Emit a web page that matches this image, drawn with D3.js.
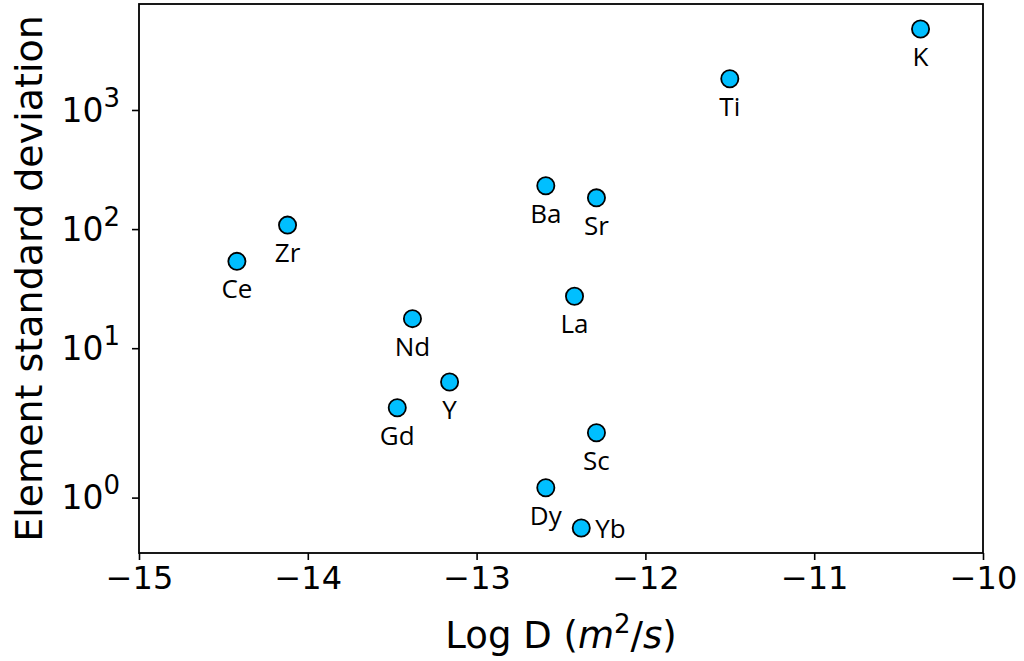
<!DOCTYPE html>
<html>
<head>
<meta charset="utf-8">
<script src="https://cdn.jsdelivr.net/npm/d3@7"></script>
<style>
  html, body { margin: 0; padding: 0; background: #ffffff; }
  svg { display: block; }
  text { fill: #000; }
</style>
</head>
<body>
<svg id="chart" width="1024" height="661"></svg>
<script>
// Element diffusivity vs. spread of concentrations
const elements = ["K", "Ti", "Ba", "Sr", "Zr", "Ce", "La", "Nd", "Y", "Gd", "Sc", "Dy", "Yb"];
const logD     = [-10.37, -11.50, -12.59, -12.29, -14.12, -14.42, -12.42, -13.38, -13.16, -13.47, -12.29, -12.59, -12.38];
const stdDev   = [4790, 1830, 231, 183, 108, 53.6, 27.3, 17.7, 5.2, 3.16, 1.98, 1.15, 0.54];
// where each element name sits relative to its marker
const labelSide = ["below", "below", "below", "below", "below", "below", "below", "below", "below", "below", "below", "below", "right"];

const xTicks = [-15, -14, -13, -12, -11, -10];
const yTickExponents = [0, 1, 2, 3];

const plot = { left: 139, right: 983, top: 4, bottom: 553 };

// symmetric log transform (linear inside ±2, log10 outside)
const LINTHRESH = 2;
const LINSCALE_ADJ = 1 / (1 - 1 / 10);
function symlog(v) {
  const a = Math.abs(v);
  if (a <= LINTHRESH) return v * LINSCALE_ADJ;
  return Math.sign(v) * LINTHRESH * (LINSCALE_ADJ + Math.log10(a / LINTHRESH));
}

const svg = d3.select("#chart");

const x = d3.scaleLinear().domain([-15, -10]).range([plot.left, plot.right]);

const tVals = stdDev.map(symlog);
const tMin = d3.min(tVals), tMax = d3.max(tVals);
const pad = (tMax - tMin) * 0.05;
const yT = d3.scaleLinear().domain([tMin - pad, tMax + pad]).range([plot.bottom, plot.top]);
const y = v => yT(symlog(v));

const tickFont = "DejaVu Sans, sans-serif";

// x axis
const xAxis = svg.append("g")
  .attr("transform", `translate(0,${plot.bottom})`)
  .call(d3.axisBottom(x).tickValues(xTicks).tickFormat(d3.format("d")).tickSize(7).tickSizeOuter(0).tickPadding(6));
xAxis.select(".domain").remove();
xAxis.selectAll(".tick line").attr("stroke", "#000").attr("stroke-width", 1.6);
xAxis.selectAll(".tick text")
  .attr("font-family", tickFont).attr("font-size", 32).attr("fill", "#000");

// y axis with 10^n labels
const yAxis = svg.append("g")
  .attr("transform", `translate(${plot.left},0)`)
  .call(d3.axisLeft(yT).tickValues(yTickExponents.map(e => symlog(Math.pow(10, e)))).tickFormat("").tickSize(7).tickSizeOuter(0).tickPadding(12));
yAxis.select(".domain").remove();
yAxis.selectAll(".tick line").attr("stroke", "#000").attr("stroke-width", 1.6);
yAxis.selectAll(".tick text")
  .data(yTickExponents)
  .attr("font-family", tickFont).attr("font-size", 33).attr("fill", "#000")
  .attr("dy", "0.34em")
  .each(function (e) {
    const t = d3.select(this);
    t.text(null);
    t.append("tspan").text("10");
    t.append("tspan").attr("font-size", 26).attr("dy", -15).text(e);
  });

// frame
svg.append("rect")
  .attr("x", plot.left).attr("y", plot.top)
  .attr("width", plot.right - plot.left).attr("height", plot.bottom - plot.top)
  .attr("fill", "none").attr("stroke", "#000").attr("stroke-width", 1.8);

// points
const idx = d3.range(elements.length);
svg.append("g").selectAll("circle")
  .data(idx).join("circle")
  .attr("cx", i => x(logD[i]))
  .attr("cy", i => y(stdDev[i]))
  .attr("r", 8.6)
  .attr("fill", "#00BFFF")
  .attr("stroke", "#000")
  .attr("stroke-width", 1.8);

// element names
svg.append("g").selectAll("text")
  .data(idx).join("text")
  .attr("font-family", "Open Sans, sans-serif")
  .attr("font-size", 26)
  .attr("text-anchor", i => labelSide[i] === "right" ? "start" : "middle")
  .attr("x", i => x(logD[i]) + (labelSide[i] === "right" ? 14 : 0))
  .attr("y", i => y(stdDev[i]) + (labelSide[i] === "right" ? 10 : 37))
  .text(i => elements[i]);

// axis titles
svg.append("text")
  .attr("x", (plot.left + plot.right) / 2).attr("y", 648)
  .attr("text-anchor", "middle")
  .attr("font-family", tickFont).attr("font-size", 37)
  .call(t => {
    t.append("tspan").text("Log D (");
    t.append("tspan").attr("font-style", "italic").text("m");
    t.append("tspan").attr("font-size", 26).attr("dy", -15).text("2");
    t.append("tspan").attr("dy", 15).text("/");
    t.append("tspan").attr("font-style", "italic").text("s");
    t.append("tspan").text(")");
  });

svg.append("text")
  .attr("transform", `translate(42,${(plot.top + plot.bottom) / 2}) rotate(-90)`)
  .attr("text-anchor", "middle")
  .attr("font-family", tickFont).attr("font-size", 38)
  .text("Element standard deviation");
</script>
</body>
</html>
